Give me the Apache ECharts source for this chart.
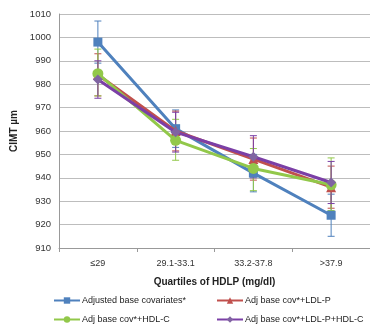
<!DOCTYPE html>
<html><head><meta charset="utf-8">
<script src="https://cdn.jsdelivr.net/npm/echarts@6/dist/echarts.min.js"></script>
<style>html,body{margin:0;padding:0;background:#fff}#c{width:370px;height:333px}</style>
</head><body><div id="c"></div>
<script>
const categories = ['≤29', '29.1-33.1', '33.2-37.8', '>37.9'];
const seriesNames = ['Adjusted base covariates*', 'Adj base cov*+LDL-P', 'Adj base cov*+HDL-C', 'Adj base cov*+LDL-P+HDL-C'];
const blueVals = [998, 961, 942, 924];
const redVals = [984, 960, 948, 936];
const greenVals = [984.5, 956, 944, 937];
const purpleVals = [982, 959.5, 949, 938];
const blueLow = [989, 953, 934, 915];
const blueHigh = [1007, 969, 950, 933];
const redLow = [975, 951.5, 939, 927];
const redHigh = [993, 968.5, 957, 945];
const greenLow = [975, 947.5, 934.5, 926];
const greenHigh = [995, 965, 952.5, 948.5];
const purpleLow = [974, 951, 940, 929];
const purpleHigh = [990, 968, 958, 947];
const yTicks = [910, 920, 930, 940, 950, 960, 970, 980, 990, 1000, 1010];

const colors = ['#4F81BD', '#C0504D', '#92C84A', '#7B3FA6'];
const markerColors = ['#4F81BD', '#C0504D', '#92C84A', '#8064A2'];
const symbols = ['rect', 'triangle', 'circle', 'diamond'];
const symSizes = [9, 10, 11, 10];
const vals = [blueVals, redVals, greenVals, purpleVals];
const lows = [blueLow, redLow, greenLow, purpleLow];
const highs = [blueHigh, redHigh, greenHigh, purpleHigh];

const chart = echarts.init(document.getElementById('c'));
const series = [];
for (let i = 0; i < 4; i++) {
  series.push({
    name: seriesNames[i], type: 'line', data: vals[i], z: 3 + i,
    symbol: symbols[i], symbolSize: symSizes[i],
    lineStyle: {color: colors[i], width: 3},
    itemStyle: {color: markerColors[i]}
  });
  series.push({
    type: 'custom', z: 2, silent: true,
    data: categories.map((c, k) => [k, lows[i][k], highs[i][k]]),
    renderItem: (function(col){ return function(params, api) {
      const lo = api.coord([api.value(0), api.value(1)]);
      const hi = api.coord([api.value(0), api.value(2)]);
      const w = 3.5;
      return {type: 'group', children: [
        {type: 'line', shape: {x1: lo[0], y1: lo[1], x2: hi[0], y2: hi[1]}, style: {stroke: col, lineWidth: 1}},
        {type: 'line', shape: {x1: lo[0]-w, y1: lo[1], x2: lo[0]+w, y2: lo[1]}, style: {stroke: col, lineWidth: 1}},
        {type: 'line', shape: {x1: hi[0]-w, y1: hi[1], x2: hi[0]+w, y2: hi[1]}, style: {stroke: col, lineWidth: 1}}
      ]};
    }; })(colors[i])
  });
}
const legendPos = [[48, 291], [211, 291], [48, 310], [211, 310]];
const legends = seriesNames.map((n, i) => ({
  data: [n], left: legendPos[i][0], top: legendPos[i][1],
  itemWidth: 26, itemHeight: 8, itemGap: 2,
  textStyle: {fontSize: 9, color: '#222', fontFamily: 'Liberation Sans, Arial, sans-serif', padding: [0,0,0,-3]}
}));
chart.setOption({
  animation: false,
  grid: {left: 59, top: 14, right: -17, bottom: 85},
  legend: legends,
  xAxis: {
    type: 'category', data: categories, boundaryGap: true,
    name: 'Quartiles of HDLP (mg/dl)', nameLocation: 'middle', nameGap: 29,
    nameTextStyle: {fontSize: 10, fontWeight: 'bold', color: '#222', fontFamily: 'Liberation Sans, Arial, sans-serif'},
    axisLine: {lineStyle: {color: '#999'}},
    axisTick: {show: true, length: 4, lineStyle: {color: '#999'}},
    axisLabel: {fontSize: 9, color: '#333', margin: 11, fontFamily: 'Liberation Sans, Arial, sans-serif'}
  },
  yAxis: {
    type: 'value', min: yTicks[0], max: yTicks[yTicks.length-1], interval: 10,
    name: 'CIMT µm', nameLocation: 'middle', nameGap: 34, nameRotate: 90,
    nameTextStyle: {fontSize: 10, fontWeight: 'bold', color: '#222', fontFamily: 'Liberation Sans, Arial, sans-serif'},
    axisLine: {show: true, lineStyle: {color: '#999'}},
    axisTick: {show: false},
    axisLabel: {fontSize: 9.5, color: '#333', margin: 8, formatter: v => String(v), fontFamily: 'Liberation Sans, Arial, sans-serif'},
    splitLine: {lineStyle: {color: '#bdbdbd', width: 1}}
  },
  series: series
});
</script></body></html>
